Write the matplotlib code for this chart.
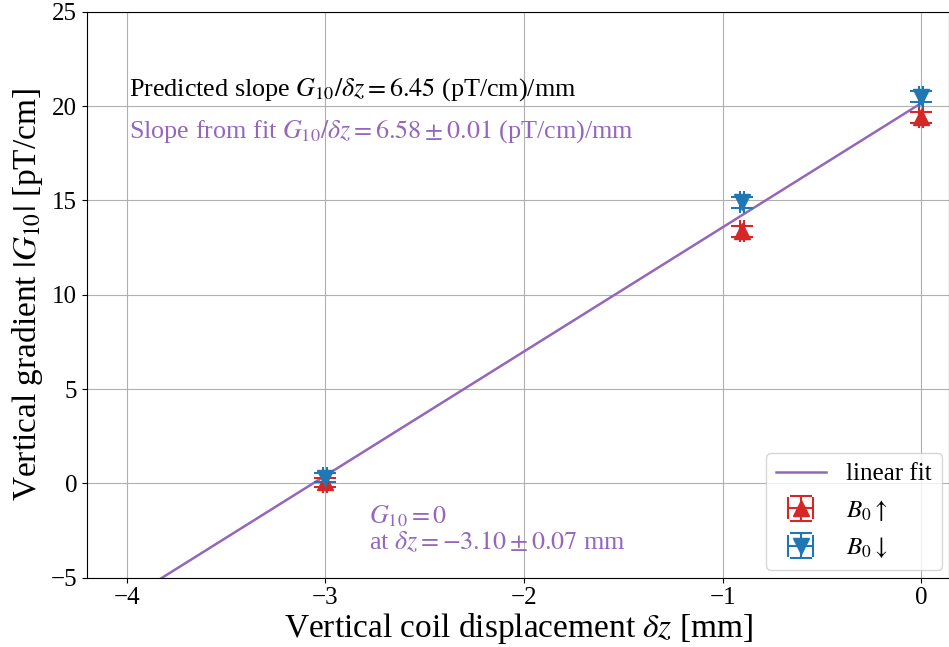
import matplotlib
matplotlib.use("Agg")
import matplotlib.pyplot as plt
import numpy as np

plt.rcParams['font.family'] = ['Liberation Serif', 'DejaVu Serif']
plt.rcParams['mathtext.fontset'] = 'stix'

dz = [-3.0, -0.9, 0.0]
g_up = [0.05, 13.35, 19.4]
g_up_err = [0.25, 0.3, 0.3]
g_down = [0.3, 14.9, 20.5]
g_down_err = [0.25, 0.3, 0.3]
dz_err = [0.01, 0.01, 0.01]
fit_slope = 6.58
fit_intercept = 20.15
fit_x = [-4.2, 0.0]

fig = plt.figure(figsize=(9.49, 6.47), dpi=100)
ax = fig.add_axes([0.0917, 0.107, 0.9083, 0.875])

fx = np.array(fit_x)
ax.plot(fx, fit_slope * fx + fit_intercept, color='#9467bd', lw=1.8, label='linear fit', zorder=2)
ax.errorbar(dz, g_up, yerr=g_up_err, xerr=dz_err, fmt='^', color='#d62728', ms=11,
            capsize=8, elinewidth=1.5, capthick=1.5, label=r'$B_0\uparrow$', zorder=3)
ax.errorbar(dz, g_down, yerr=g_down_err, xerr=dz_err, fmt='v', color='#1f77b4', ms=11,
            capsize=8, elinewidth=1.5, capthick=1.5, label=r'$B_0\downarrow$', zorder=3)

ax.set_xlim(-4.2, 0.14)
ax.set_ylim(-5, 25)
ax.set_xticks([-4, -3, -2, -1, 0])
ax.set_yticks([-5, 0, 5, 10, 15, 20, 25])
ax.grid(True, color='#b0b0b0', lw=0.8)
ax.set_axisbelow(True)
ax.tick_params(labelsize=18)
ax.set_xlabel(r'Vertical coil displacement $\delta z$ [mm]', fontsize=24, labelpad=1)
ax.set_ylabel(r'Vertical gradient $|G_{10}|$ [pT/cm]', fontsize=24)

ax.text(-3.99, 20.85, r'Predicted slope $G_{10}/\delta z = 6.45$ (pT/cm)/mm', fontsize=18.8,
        color='black', va='center')
ax.text(-3.99, 18.65, r'Slope from fit $G_{10}/\delta z = 6.58 \pm 0.01$ (pT/cm)/mm', fontsize=18.8,
        color='#9467bd', va='center')
ax.text(-2.78, -2.4, r'$G_{10} = 0$' + '\n' + r'at $\delta z = -3.10 \pm 0.07$ mm', fontsize=18.8,
        color='#9467bd', va='center', linespacing=1.0)

ax.legend(loc='lower right', fontsize=18, framealpha=0.8, handlelength=2.0,
          bbox_to_anchor=(1.0, 0.0), borderaxespad=0.3)

fig.savefig('out.png', dpi=100)
